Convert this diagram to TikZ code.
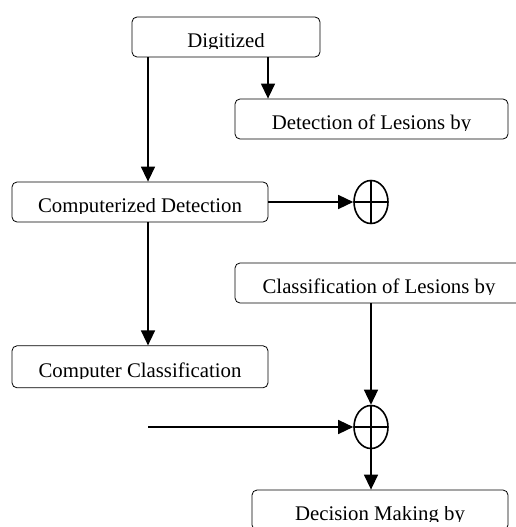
\documentclass[tikz,border=0pt]{standalone}
\usepackage{fontspec}
\usepackage{trimclip}
\setmainfont{Liberation Serif}
\usetikzlibrary{arrows.meta,positioning,shapes.geometric}

\newcommand{\cuttext}[1]{\clipbox{0pt 3.3pt 0pt 0pt}{#1}}

\tikzset{
  box/.style = {draw, line width=0.8pt, rounded corners=5pt, minimum height=40pt,
                inner sep=0pt, text height=22pt, text depth=1pt,
                font=\fontsize{20.8}{24}\selectfont},
  arr/.style = {line width=1.4pt, -{Triangle[length=15pt,width=14pt]}},
  sumnode/.style = {draw, ellipse, line width=1.6pt, minimum width=34pt,
                    minimum height=43pt, inner sep=0pt,
                    path picture={\draw[line width=1.6pt]
                      (path picture bounding box.north) -- (path picture bounding box.south)
                      (path picture bounding box.west) -- (path picture bounding box.east);}},
}

\begin{document}
\begin{tikzpicture}[x=1pt, y=-1pt]
  \useasboundingbox[fill=white] (0,0) rectangle (516,527);

  % boxes
  \node[box, minimum width=188pt] (digit) at (226,37) {\cuttext{Digitized}};
  \node[box, minimum width=273pt] (detles) at (371.5,119) {\cuttext{Detection of Lesions by}};
  \node[box, minimum width=256pt] (compdet) at (140,202) {\cuttext{Computerized Detection}};
  \node[box, minimum width=256pt, minimum height=42pt, below=123pt of compdet] (compcls) {\cuttext{Computer Classification}};
  \node[box, minimum width=288pt] (clsles) at (379,283) {\cuttext{Classification of Lesions by}};
  \node[box, minimum width=256pt] (decis) at (380,510) {\cuttext{Decision Making by}};

  % summing points
  \node[sumnode] (sum1) at (371,202) {};
  \node[sumnode] (sum2) at (371,427) {};
  \coordinate (inp) at (148,427);

  % connectors
  \draw[arr] ([xshift=-78pt]digit.south) -- ([xshift=-78pt]digit.south |- compdet.north);
  \draw[arr] ([xshift=42pt]digit.south) -- ([xshift=42pt]digit.south |- detles.north);
  \draw[arr] ([xshift=8pt]compdet.south) -- ([xshift=8pt]compdet.south |- compcls.north);
  \draw[arr] (compdet.east) -- (sum1.west);
  \draw[arr] (clsles.south -| sum2) -- (sum2.north);
  \draw[arr] (inp) -- (sum2.west);
  \draw[arr] (sum2.south) -- (sum2.south |- decis.north);
\end{tikzpicture}
\end{document}
